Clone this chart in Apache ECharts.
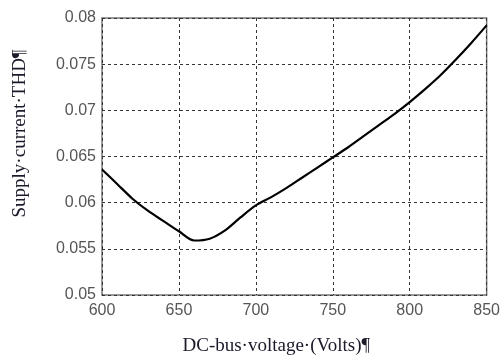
<!DOCTYPE html>
<html>
<head>
<meta charset="utf-8">
<script src="https://cdn.jsdelivr.net/npm/echarts@6/dist/echarts.min.js"></script>
<style>
  html, body { margin: 0; padding: 0; background: #fff; }
  #main { width: 503px; height: 361px; }
</style>
</head>
<body>
<div id="main"></div>
<script>
// DC bus voltage (V) vs supply current THD
const voltage = [600, 610, 620, 630, 640, 650, 660, 670, 680, 690, 700, 710, 720, 730, 740, 750, 760, 770, 780, 790, 800, 810, 820, 830, 840, 850];
const thd = [0.0636, 0.0620, 0.0604, 0.0591, 0.0580, 0.0569, 0.0559, 0.0561, 0.0570, 0.0584, 0.0597, 0.0606, 0.0616, 0.0627, 0.0638, 0.0649, 0.0660, 0.0672, 0.0684, 0.0696, 0.0709, 0.0723, 0.0738, 0.0755, 0.0773, 0.0792];

const xLabel = 'DC-bus·voltage·(Volts)¶';
const yLabel = 'Supply·current·THD¶';

var myChart = echarts.init(document.getElementById('main'));

let points = [];
voltage.forEach(function (v, i) {
    points.push([v, thd[i]]);
});

var tickFont = { fontFamily: 'Liberation Sans', fontSize: 16, color: '#555' };
var gridDash = { color: '#333', type: [3, 3], width: 1 };

var option = {
    animation: false,
    backgroundColor: '#fff',
    grid: {
        left: 102, top: 18, right: 15, bottom: 62,
        show: true, borderColor: '#777', borderWidth: 1.5
    },
    xAxis: {
        type: 'value',
        min: 600, max: 850, interval: 50,
        name: xLabel,
        nameLocation: 'middle',
        nameGap: 42,
        // label sits a bit left of the plot centre in the original
        nameTextStyle: { fontFamily: 'Liberation Serif', fontSize: 19, color: '#1a1a2a', padding: [0, 36, 0, 0] },
        axisLine: { show: false },
        axisTick: { show: false },
        axisLabel: Object.assign({ margin: 8 }, tickFont),
        splitLine: { show: true, lineStyle: gridDash }
    },
    yAxis: {
        type: 'value',
        min: 0.05, max: 0.08, interval: 0.005,
        name: yLabel,
        nameLocation: 'middle',
        nameGap: 72,
        nameTextStyle: { fontFamily: 'Liberation Serif', fontSize: 19, color: '#1a1a2a', padding: [0, 0, 0, 46] },
        axisLine: { show: false },
        axisTick: { show: false },
        axisLabel: Object.assign({ margin: 6 }, tickFont),
        splitLine: { show: true, lineStyle: gridDash }
    },
    series: [{
        type: 'line',
        data: points,
        showSymbol: false,
        smooth: 0.3,
        lineStyle: { color: '#000', width: 2.2 }
    }]
};
myChart.setOption(option);
</script>
</body>
</html>
